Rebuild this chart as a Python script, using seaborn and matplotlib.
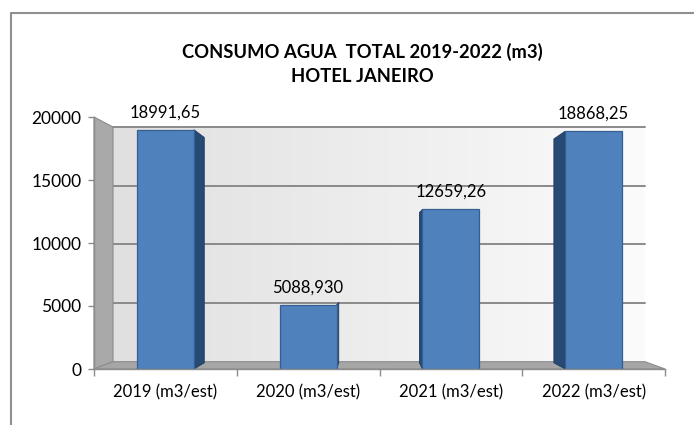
import matplotlib
matplotlib.use("Agg")
import matplotlib.pyplot as plt
from matplotlib.patches import Polygon
from matplotlib.lines import Line2D
from matplotlib.colors import LinearSegmentedColormap
import seaborn as sns
import pandas as pd
import numpy as np

# dados
categorias = ["2019 (m3/est)", "2020 (m3/est)", "2021 (m3/est)", "2022 (m3/est)"]
consumo = [18991.65, 5088.93, 12659.26, 18868.25]
rotulos = ["18991,65", "5088,930", "12659,26", "18868,25"]
y_ticks = [0, 5000, 10000, 15000, 20000]
titulo_1 = "CONSUMO AGUA  TOTAL 2019-2022 (m3)"
titulo_2 = "HOTEL JANEIRO"

W, H = 694, 425


def px(x0, y0, x1, y1):
    """caixa em pixels da imagem -> [left, bottom, width, height] da figura"""
    return [x0 / W, 1 - y1 / H, (x1 - x0) / W, (y1 - y0) / H]


sns.set_theme(style="white")
plt.rcParams["font.family"] = ["Lato", "DejaVu Sans"]

fig = plt.figure(figsize=(W / 100, H / 100), dpi=100)
fig.patch.set_facecolor("white")

# moldura externa (so topo e lado esquerdo aparecem)
fig.add_artist(Line2D([11 / W, 11 / W, 1.0], [0, 1 - 13 / H, 1 - 13 / H],
                      transform=fig.transFigure, color="#8f8f8f", lw=1.5))

# parede do fundo
ax_back = fig.add_axes(px(113, 127, 645, 361.7))
fundo = LinearSegmentedColormap.from_list("fundo", ["#e0e0e0", "#fbfbfb"])
ax_back.imshow(np.linspace(0, 1, 256)[None, :], aspect="auto", cmap=fundo,
               extent=(0, 1, 0, 20000), zorder=0)
ax_back.set_xlim(0, 1)
ax_back.set_ylim(0, 20000)
for v in y_ticks[1:]:
    ax_back.axhline(v, color="#8a8a8a", lw=1.4, clip_on=False)
ax_back.set_xticks([])
ax_back.set_yticks([])
for s in ax_back.spines.values():
    s.set_visible(False)

# eixo frontal com as barras
ax = fig.add_axes(px(94, 117, 665, 369))
ax.set_zorder(2)
ax.patch.set_alpha(0)
df = pd.DataFrame({"ano": categorias, "consumo": consumo})
sns.barplot(data=df, x="ano", y="consumo", color="#4f81bd", width=0.4,
            saturation=1, edgecolor="#355f91", linewidth=0.9, ax=ax)
ax.set_xlim(-0.5, 3.5)
ax.set_ylim(0, 20000)
ax.set_xlabel("")
ax.set_ylabel("")
ax.set_yticks(y_ticks)
ax.set_xticks(np.arange(-0.5, 4, 1), minor=True)
ax.tick_params(axis="y", length=4, width=1, color="#8c8c8c", pad=5,
               labelsize=12.5, labelcolor="black", left=True)
ax.tick_params(axis="x", which="major", length=0, pad=11, labelsize=12,
               labelcolor="black")
ax.tick_params(axis="x", which="minor", length=5, width=1, color="#8c8c8c",
               bottom=True)
for s in ["top", "right"]:
    ax.spines[s].set_visible(False)
for s in ["left", "bottom"]:
    ax.spines[s].set_color("#8c8c8c")
    ax.spines[s].set_linewidth(1)

# parede lateral e piso (perspectiva entre eixo frontal e parede do fundo)
fb = ax.get_position()
bb = ax_back.get_position()
lateral = Polygon([(fb.x0, fb.y0), (fb.x0, fb.y1), (bb.x0, bb.y1), (bb.x0, bb.y0)],
                  closed=True, transform=fig.transFigure, facecolor="#a9a9a9",
                  edgecolor="#8c8c8c", lw=0.8, zorder=1)
piso = Polygon([(fb.x0, fb.y0), (fb.x1, fb.y0), (bb.x1, bb.y0), (bb.x0, bb.y0)],
               closed=True, transform=fig.transFigure, facecolor="#a6a6a6",
               edgecolor="#8c8c8c", lw=0.8, zorder=1)
fig.add_artist(lateral)
fig.add_artist(piso)


def to_fig(x, y):
    return fig.transFigure.inverted().transform(ax.transData.transform((x, y)))


def to_back(p, f=0.85):
    u = (p[0] - fb.x0) / fb.width
    v = (p[1] - fb.y0) / fb.height
    xb = bb.x0 + u * bb.width
    yb = bb.y0 + v * bb.height
    return (p[0] + f * (xb - p[0]), p[1] + f * (yb - p[1]))


# faces laterais das barras + rotulos
for bar, rot in zip(ax.patches, rotulos):
    x0 = bar.get_x()
    x1 = x0 + bar.get_width()
    h = bar.get_height()
    cx = x0 + bar.get_width() / 2
    c = to_fig(cx, 0)
    shift = to_back(c)[0] - c[0]
    borda = x1 if shift > 0 else x0
    pb = to_fig(borda, 0)
    pt = to_fig(borda, h)
    face = Polygon([pb, pt, to_back(pt), to_back(pb)], closed=True,
                   transform=fig.transFigure, facecolor="#274a74",
                   edgecolor="#1f3b5e", lw=0.6, zorder=1.5)
    fig.add_artist(face)
    ax.annotate(rot, (cx, h), xytext=(0, 9), textcoords="offset points",
                ha="center", va="baseline", fontsize=12, color="black",
                annotation_clip=False)

# titulo
fig.text(362 / W, 1 - 52 / H, titulo_1, ha="center", va="center",
         fontsize=13.2, fontweight="bold", color="black")
fig.text(362 / W, 1 - 77 / H, titulo_2, ha="center", va="center",
         fontsize=13.2, fontweight="bold", color="black")

fig.savefig("out.png", dpi=100)
